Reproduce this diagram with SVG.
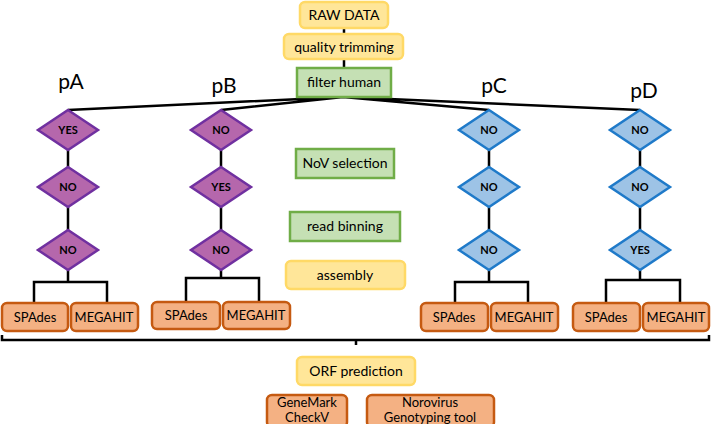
<svg xmlns="http://www.w3.org/2000/svg" width="711" height="424" viewBox="0 0 711 424">
<style>
text{font-family:Lato,"Open Sans","Liberation Sans",sans-serif;fill:#000;text-anchor:middle}
.y{fill:#FFE699;stroke:#FFD966;stroke-width:2.5}
.g{fill:#C5E0B4;stroke:#70AD47;stroke-width:2.5}
.o{fill:#F4B183;stroke:#C55A11;stroke-width:2.5}
.p{fill:#B567AC;stroke:#7030A0;stroke-width:2.5}
.b{fill:#9DC3E6;stroke:#1F7AC9;stroke-width:2.5}
.t{font-size:14px}
.s{font-size:13px}
.d{font-size:11px;font-weight:bold}
.lab{font-size:21px}
.c{fill:none;stroke:#000;stroke-width:2.5}
</style>
<defs>
<polygon id="dia" points="0,-20 30,0 0,20 -30,0"/>
</defs>
<g id="connectors">
<path class="c" d="M344 28V34M344 59V68"/>
<path class="c" d="M343 97L68 110M343 97L221 110M343 97L489 110M343 97L640 110"/>
<path class="c" d="M68 150V167M68 207V230M68 270V282M34 303V282H107V303"/>
<path class="c" d="M221 150V167M221 207V230M221 270V278M186 302V278H259V302"/>
<path class="c" d="M489 150V167M489 207V230M489 270V282M455 303V282H528V303"/>
<path class="c" d="M640 150V167M640 207V230M640 270V280M606 303V280H680V303"/>
<path class="c" d="M2 335V340H709V335M356 340V345"/>
</g>
<g id="raw"><rect class="y" x="300" y="2" width="88" height="26" rx="5"/><text class="t" x="344" y="20">RAW DATA</text></g>
<g id="qt"><rect class="y" x="284" y="34" width="119" height="25" rx="5"/><text class="t" x="344" y="52">quality trimming</text></g>
<g id="fh"><rect class="g" x="297" y="68" width="94" height="29"/><text class="t" x="344" y="87">filter human</text></g>
<g id="labels">
<text class="lab" x="71" y="89">pA</text>
<text class="lab" x="224" y="93">pB</text>
<text class="lab" x="494" y="93">pC</text>
<text class="lab" x="644" y="98">pD</text>
</g>
<g id="pA">
<use href="#dia" class="p" x="68" y="130"/><text class="d" x="68" y="134">YES</text>
<use href="#dia" class="p" x="68" y="187"/><text class="d" x="68" y="191">NO</text>
<use href="#dia" class="p" x="68" y="250"/><text class="d" x="68" y="254">NO</text>
</g>
<g id="pB">
<use href="#dia" class="p" x="221" y="130"/><text class="d" x="221" y="134">NO</text>
<use href="#dia" class="p" x="221" y="187"/><text class="d" x="221" y="191">YES</text>
<use href="#dia" class="p" x="221" y="250"/><text class="d" x="221" y="254">NO</text>
</g>
<g id="pC">
<use href="#dia" class="b" x="489" y="130"/><text class="d" x="489" y="134">NO</text>
<use href="#dia" class="b" x="489" y="187"/><text class="d" x="489" y="191">NO</text>
<use href="#dia" class="b" x="489" y="250"/><text class="d" x="489" y="254">NO</text>
</g>
<g id="pD">
<use href="#dia" class="b" x="640" y="130"/><text class="d" x="640" y="134">NO</text>
<use href="#dia" class="b" x="640" y="187"/><text class="d" x="640" y="191">NO</text>
<use href="#dia" class="b" x="640" y="250"/><text class="d" x="640" y="254">YES</text>
</g>
<g id="nov"><rect class="g" x="296" y="149" width="98" height="29"/><text class="t" x="345" y="168">NoV selection</text></g>
<g id="rb"><rect class="g" x="290" y="212" width="110" height="29"/><text class="t" x="345" y="231">read binning</text></g>
<g id="asm"><rect class="y" x="286" y="261" width="119" height="28" rx="5"/><text class="t" x="345" y="280">assembly</text></g>
<g id="pA-tools">
<rect class="o" x="2" y="303" width="66" height="28" rx="5"/><text class="s" x="35" y="322">SPAdes</text>
<rect class="o" x="71" y="303" width="67" height="28" rx="5"/><text class="s" x="104" y="322">MEGAHIT</text>
</g>
<g id="pB-tools">
<rect class="o" x="152" y="302" width="68" height="27" rx="5"/><text class="s" x="186" y="320">SPAdes</text>
<rect class="o" x="223" y="302" width="67" height="27" rx="5"/><text class="s" x="256" y="320">MEGAHIT</text>
</g>
<g id="pC-tools">
<rect class="o" x="421" y="303" width="67" height="28" rx="5"/><text class="s" x="454" y="322">SPAdes</text>
<rect class="o" x="491" y="303" width="67" height="28" rx="5"/><text class="s" x="524" y="322">MEGAHIT</text>
</g>
<g id="pD-tools">
<rect class="o" x="573" y="303" width="67" height="28" rx="5"/><text class="s" x="606" y="322">SPAdes</text>
<rect class="o" x="643" y="303" width="66" height="28" rx="5"/><text class="s" x="676" y="322">MEGAHIT</text>
</g>
<g id="orf"><rect class="y" x="297" y="357" width="118" height="28" rx="5"/><text class="t" x="356" y="376">ORF prediction</text></g>
<g id="gm"><rect class="o" x="267" y="395" width="80" height="32" rx="5"/><text class="s" x="307" y="407">GeneMark</text><text class="s" x="307" y="422">CheckV</text></g>
<g id="nv"><rect class="o" x="367" y="395" width="127" height="32" rx="5"/><text class="s" x="430" y="407">Norovirus</text><text class="s" x="430" y="422">Genotyping tool</text></g>
</svg>
